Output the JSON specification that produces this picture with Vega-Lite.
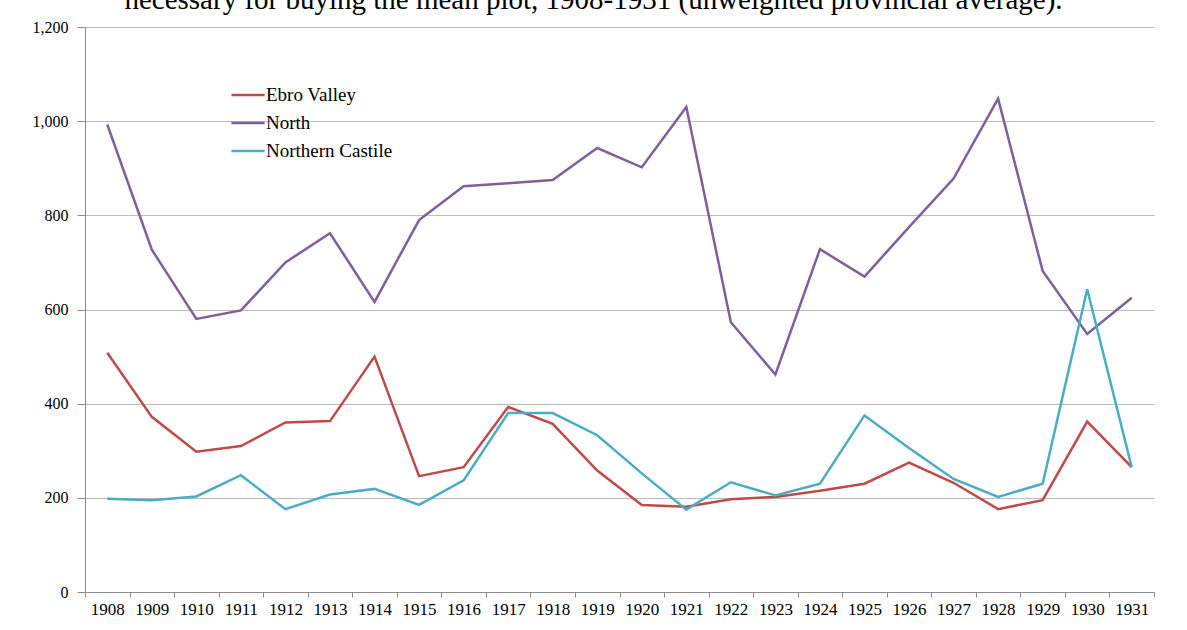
{
  "$schema": "https://vega.github.io/schema/vega-lite/v6.json",
  "width": 1069,
  "height": 565,
  "autosize": {"type": "none"},
  "padding": {"left": 85, "top": 27, "right": 33, "bottom": 38},
  "background": "white",
  "title": {
    "text": "necessary for buying the mean plot, 1908-1931 (unweighted provincial average).",
    "font": "Liberation Serif",
    "fontSize": 29,
    "fontWeight": "normal",
    "color": "black",
    "anchor": "middle",
    "dx": -26,
    "offset": 4
  },
  "data": {
    "values": [
      {"year": "1908", "region": "Ebro Valley", "value": 508},
      {"year": "1909", "region": "Ebro Valley", "value": 372},
      {"year": "1910", "region": "Ebro Valley", "value": 298},
      {"year": "1911", "region": "Ebro Valley", "value": 310},
      {"year": "1912", "region": "Ebro Valley", "value": 360},
      {"year": "1913", "region": "Ebro Valley", "value": 363},
      {"year": "1914", "region": "Ebro Valley", "value": 500},
      {"year": "1915", "region": "Ebro Valley", "value": 246},
      {"year": "1916", "region": "Ebro Valley", "value": 265},
      {"year": "1917", "region": "Ebro Valley", "value": 393},
      {"year": "1918", "region": "Ebro Valley", "value": 357},
      {"year": "1919", "region": "Ebro Valley", "value": 258},
      {"year": "1920", "region": "Ebro Valley", "value": 185},
      {"year": "1921", "region": "Ebro Valley", "value": 181},
      {"year": "1922", "region": "Ebro Valley", "value": 197},
      {"year": "1923", "region": "Ebro Valley", "value": 202},
      {"year": "1924", "region": "Ebro Valley", "value": 215},
      {"year": "1925", "region": "Ebro Valley", "value": 230},
      {"year": "1926", "region": "Ebro Valley", "value": 275},
      {"year": "1927", "region": "Ebro Valley", "value": 232},
      {"year": "1928", "region": "Ebro Valley", "value": 176},
      {"year": "1929", "region": "Ebro Valley", "value": 195},
      {"year": "1930", "region": "Ebro Valley", "value": 362},
      {"year": "1931", "region": "Ebro Valley", "value": 265},
      {"year": "1908", "region": "North", "value": 993},
      {"year": "1909", "region": "North", "value": 727},
      {"year": "1910", "region": "North", "value": 580},
      {"year": "1911", "region": "North", "value": 598},
      {"year": "1912", "region": "North", "value": 700},
      {"year": "1913", "region": "North", "value": 762},
      {"year": "1914", "region": "North", "value": 616},
      {"year": "1915", "region": "North", "value": 790},
      {"year": "1916", "region": "North", "value": 862},
      {"year": "1917", "region": "North", "value": 868},
      {"year": "1918", "region": "North", "value": 875},
      {"year": "1919", "region": "North", "value": 943},
      {"year": "1920", "region": "North", "value": 902},
      {"year": "1921", "region": "North", "value": 1030},
      {"year": "1922", "region": "North", "value": 573},
      {"year": "1923", "region": "North", "value": 462},
      {"year": "1924", "region": "North", "value": 728},
      {"year": "1925", "region": "North", "value": 670},
      {"year": "1926", "region": "North", "value": 775},
      {"year": "1927", "region": "North", "value": 878},
      {"year": "1928", "region": "North", "value": 1048},
      {"year": "1929", "region": "North", "value": 682},
      {"year": "1930", "region": "North", "value": 548},
      {"year": "1931", "region": "North", "value": 625},
      {"year": "1908", "region": "Northern Castile", "value": 198},
      {"year": "1909", "region": "Northern Castile", "value": 195},
      {"year": "1910", "region": "Northern Castile", "value": 203},
      {"year": "1911", "region": "Northern Castile", "value": 248},
      {"year": "1912", "region": "Northern Castile", "value": 176},
      {"year": "1913", "region": "Northern Castile", "value": 207},
      {"year": "1914", "region": "Northern Castile", "value": 219},
      {"year": "1915", "region": "Northern Castile", "value": 185},
      {"year": "1916", "region": "Northern Castile", "value": 237},
      {"year": "1917", "region": "Northern Castile", "value": 380},
      {"year": "1918", "region": "Northern Castile", "value": 380},
      {"year": "1919", "region": "Northern Castile", "value": 333},
      {"year": "1920", "region": "Northern Castile", "value": 252},
      {"year": "1921", "region": "Northern Castile", "value": 175},
      {"year": "1922", "region": "Northern Castile", "value": 233},
      {"year": "1923", "region": "Northern Castile", "value": 205},
      {"year": "1924", "region": "Northern Castile", "value": 230},
      {"year": "1925", "region": "Northern Castile", "value": 375},
      {"year": "1926", "region": "Northern Castile", "value": 306},
      {"year": "1927", "region": "Northern Castile", "value": 240},
      {"year": "1928", "region": "Northern Castile", "value": 202},
      {"year": "1929", "region": "Northern Castile", "value": 230},
      {"year": "1930", "region": "Northern Castile", "value": 643},
      {"year": "1931", "region": "Northern Castile", "value": 265}
    ]
  },
  "mark": {"type": "line", "strokeWidth": 2.5},
  "encoding": {
    "x": {
      "field": "year",
      "type": "ordinal",
      "scale": {"type": "band", "paddingInner": 0, "paddingOuter": 0},
      "axis": {
        "title": null,
        "labelAngle": 0,
        "labelFont": "Liberation Serif",
        "labelFontSize": 17,
        "labelColor": "black",
        "tickBand": "extent",
        "tickSize": 5,
        "labelPadding": 4,
        "grid": false,
        "domainColor": "#8c8c8c",
        "tickColor": "#8c8c8c",
        "encode": {
          "labels": {
            "update": {
              "font": {"value": "Liberation Serif"},
              "fontSize": {"value": 17},
              "fill": {"value": "black"}
            }
          }
        }
      }
    },
    "y": {
      "field": "value",
      "type": "quantitative",
      "scale": {"domain": [0, 1200], "nice": false},
      "axis": {
        "title": null,
        "values": [0, 200, 400, 600, 800, 1000, 1200],
        "format": ",d",
        "labelFont": "Liberation Serif",
        "labelFontSize": 16,
        "labelColor": "black",
        "tickSize": 8,
        "labelPadding": 9,
        "grid": true,
        "gridColor": "#bcbcbc",
        "domainColor": "#8c8c8c",
        "tickColor": "#8c8c8c",
        "encode": {
          "labels": {
            "update": {
              "font": {"value": "Liberation Serif"},
              "fontSize": {"value": 16},
              "fill": {"value": "black"}
            }
          }
        }
      }
    },
    "color": {
      "field": "region",
      "type": "nominal",
      "scale": {
        "domain": ["Ebro Valley", "North", "Northern Castile"],
        "range": ["#be4b48", "#7d60a0", "#4bacc6"]
      },
      "legend": {
        "title": null,
        "orient": "none",
        "legendX": 145,
        "legendY": 50,
        "symbolType": "stroke",
        "symbolSize": 1100,
        "symbolStrokeWidth": 2.5,
        "labelFont": "Liberation Serif",
        "labelFontSize": 19,
        "labelColor": "black",
        "labelOffset": 0,
        "rowPadding": -8
      }
    }
  },
  "config": {
    "view": {"stroke": null},
    "axis": {"labelFont": "Liberation Serif", "labelFontSize": 17},
    "style": {"guide-label": {"font": "Liberation Serif", "fontSize": 17}}
  }
}
